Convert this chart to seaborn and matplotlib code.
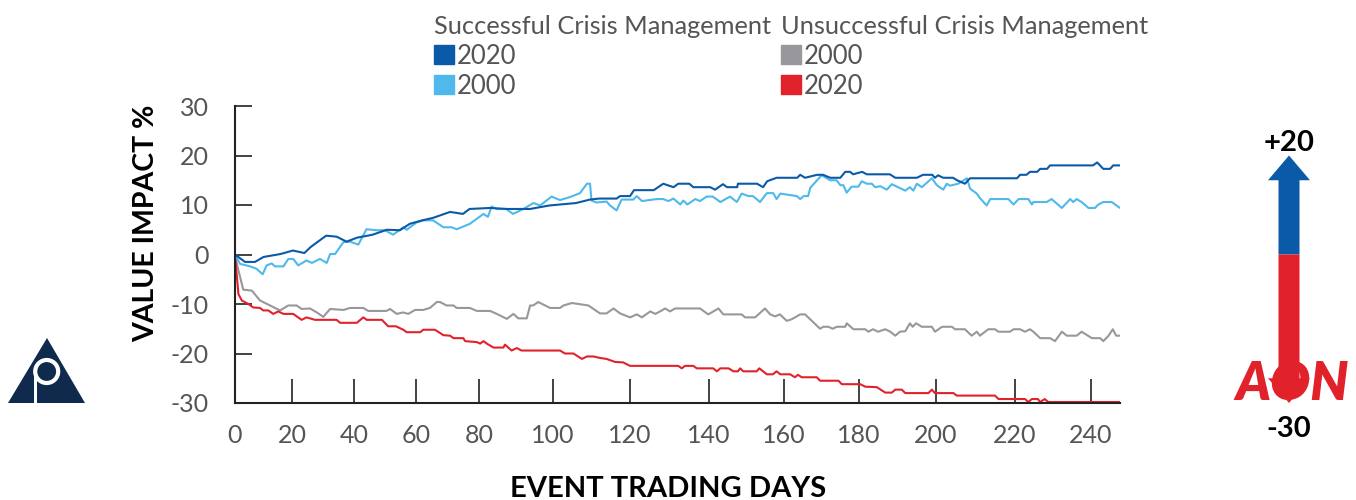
import numpy as np
import pandas as pd
import seaborn as sns
import matplotlib.pyplot as plt
from matplotlib.patches import Polygon, Rectangle, Circle
from matplotlib.transforms import blended_transform_factory

# series (event trading day, value impact %)
succ_2020_days = [0, 3.5, 7, 10, 16, 20.3, 24, 26, 31, 34.4,
                  37.6, 41, 46, 50.6, 54.8, 58, 62, 65.4, 70.8, 74.9,
                  77, 83, 87.5, 93.8, 99, 106, 109.6, 112, 116.5, 117.4,
                  120, 121, 126, 128.4, 131, 132.2, 135, 136, 140.3, 141.6,
                  143.7, 144.8, 147.5, 147.7, 152.8, 154.4, 155.5, 158, 163.5, 164.3,
                  165.6, 168.8, 170.4, 172.3, 175, 176.3, 177.6, 178.4, 180.8, 182,
                  188, 189.4, 195, 196.6, 199, 199.7, 200.5, 201.8, 204.3, 205.3,
                  207.3, 208.6, 220.5, 221.3, 223, 223.9, 225.8, 226.6, 228.4, 229.2,
                  240.5, 241.6, 243.2, 245, 245.8, 247.6]
succ_2020_vals = [0, -1.5, -1.5, -0.5, 0.1, 0.8, 0.3, 1.5, 3.8, 3.6,
                  2.6, 3.4, 4.0, 5.0, 4.9, 6.2, 6.9, 7.4, 8.6, 8.2,
                  9.2, 9.4, 9.2, 9.2, 9.9, 10.4, 11.1, 11.3, 11.3, 11.8,
                  11.8, 13.0, 13.0, 14.3, 13.6, 14.3, 14.3, 13.6, 13.6, 13.1,
                  14.2, 13.6, 13.6, 14.3, 14.3, 13.6, 14.8, 15.5, 15.5, 16.1,
                  15.5, 16.1, 16.1, 15.5, 15.5, 16.7, 16.7, 16.2, 16.7, 16.2,
                  16.2, 15.5, 15.5, 16.1, 16.1, 15.5, 16.0, 15.5, 15.5, 15.0,
                  14.3, 15.4, 15.4, 16.1, 16.1, 16.7, 16.7, 17.3, 17.3, 18.0,
                  18.0, 18.6, 17.3, 17.3, 18.0, 18.0]

succ_2000_days = [0, 1.8, 5.3, 7.6, 9.7, 11.1, 12.9, 14, 17, 18.7,
                  20.4, 22, 24.7, 26.4, 29, 31.2, 32.3, 33.9, 36.6, 38.7,
                  41.4, 44, 47.3, 50, 52.6, 55.9, 57, 60.2, 62.3, 65.4,
                  68.7, 71.3, 72.9, 77.1, 81.2, 82.4, 83.4, 84.8, 87.3, 89.2,
                  92, 94.7, 96.5, 99.6, 101.8, 104.4, 107, 108.8, 109.6, 110,
                  111.3, 113.9, 114.8, 116.5, 117.8, 120.8, 121.7, 123, 126.8, 128.4,
                  129.7, 131, 132.7, 133.5, 134.5, 136.5, 137.7, 139.4, 141, 143,
                  145.6, 147.4, 148.7, 150.5, 151.7, 153.6, 155.4, 157.1, 158, 159,
                  163.4, 164.3, 165.2, 166.4, 167, 170, 172.3, 174, 175, 175.8,
                  176.7, 178, 179.8, 180.7, 182, 183.3, 184.2, 185.5, 187.2, 188.5,
                  190.1, 192, 193.2, 194.1, 195, 196.3, 198.9, 200.2, 201.8, 202.7,
                  203.5, 205.6, 207.8, 208.6, 210.3, 211.1, 212.8, 213.7, 218.3, 219.6,
                  220.9, 223.5, 224.4, 224.8, 228.3, 229.6, 232.3, 234.5, 235.3, 236.2,
                  237.5, 239.3, 241, 241.9, 243.2, 245.4, 247.6]
succ_2000_vals = [0, -1.9, -2.4, -2.9, -4.0, -2.2, -1.8, -2.4, -2.4, -0.9,
                  -0.9, -2.2, -1.2, -1.7, -0.9, -1.7, 0.1, 0.1, 2.5, 2.6,
                  2.0, 5.1, 4.9, 4.9, 4.0, 5.5, 5.0, 6.5, 6.9, 6.9,
                  5.5, 5.5, 5.1, 6.2, 8.2, 7.6, 9.7, 9.2, 9.2, 8.2,
                  9.2, 10.4, 9.9, 11.7, 11.0, 11.6, 12.4, 14.3, 14.3, 10.9,
                  10.5, 10.7, 9.9, 8.9, 11.1, 11.1, 11.8, 10.8, 11.2, 11.2,
                  10.8, 11.3, 10.1, 10.9, 10.1, 11.2, 10.8, 11.7, 11.7, 10.6,
                  11.7, 10.6, 12.3, 11.8, 11.8, 10.6, 12.4, 12.4, 11.2, 12.3,
                  11.8, 11.2, 11.8, 11.8, 13.5, 16.0, 15.0, 15.0, 14.0, 14.0,
                  12.5, 13.7, 13.7, 14.8, 14.3, 14.3, 13.6, 13.8, 13.1, 14.2,
                  13.6, 12.9, 13.6, 12.9, 14.3, 13.6, 15.4, 14.0, 13.1, 14.3,
                  13.9, 14.3, 15.4, 13.3, 12.3, 11.4, 9.9, 11.2, 11.2, 10.1,
                  11.2, 11.2, 10.1, 10.6, 10.6, 11.2, 9.4, 11.2, 10.6, 11.2,
                  10.6, 9.4, 9.4, 10.1, 10.6, 10.6, 9.4]

unsucc_2000_days = [0, 1.2, 2.9, 5.9, 8.8, 12.3, 15.8, 18.7, 21.5, 23.1,
                    25.8, 28, 30.1, 32.3, 36.6, 38.7, 43, 44.6, 50.5, 51.6,
                    53.8, 55.8, 57.5, 59.7, 62.3, 64.4, 66.6, 67.6, 69.7, 71.9,
                    72.9, 77.1, 79.3, 83, 84.8, 87.5, 89.3, 90.6, 92.9, 93.8,
                    94.6, 96, 99.2, 101.8, 102.7, 104.9, 109.2, 112.2, 113.9, 115.7,
                    117.4, 120, 121.7, 123, 125.1, 126.4, 127.6, 128.9, 130.1, 131.4,
                    137.7, 139.8, 142.5, 143.8, 148.7, 149.6, 152.3, 154.9, 156.3, 157.6,
                    158.9, 160.7, 162, 164.3, 165.6, 169.6, 170.4, 171.8, 173, 174,
                    176.3, 176.7, 178.5, 181.6, 182.4, 183.6, 184.9, 186.8, 188.1, 189.4,
                    190.6, 192, 193.2, 193.9, 194.8, 196.3, 198.9, 199.7, 201.5, 204,
                    204.8, 207.3, 209, 210.3, 211.1, 213.2, 214.9, 215.8, 218.7, 219.6,
                    221.3, 222.6, 223.9, 224.8, 226.6, 229.2, 230.5, 232.3, 233.6, 236.2,
                    237.5, 240.2, 242.4, 243.2, 244.6, 245.7, 246.6, 247.6]
unsucc_2000_vals = [0, -3.2, -7.1, -7.3, -9.3, -10.3, -11.3, -10.3, -10.3, -11.0,
                    -10.9, -11.7, -12.6, -11.0, -11.2, -10.8, -10.8, -11.4, -11.4, -11.0,
                    -12.0, -11.7, -12.0, -11.2, -11.2, -10.8, -9.6, -9.6, -10.3, -10.3,
                    -10.8, -10.8, -11.4, -11.4, -12.0, -13.0, -12.0, -12.9, -12.9, -10.3,
                    -10.3, -9.6, -10.8, -10.8, -10.3, -9.8, -10.3, -11.9, -11.9, -10.9,
                    -11.9, -12.7, -12.1, -12.7, -11.5, -12.0, -11.5, -10.9, -11.5, -10.9,
                    -10.9, -12.1, -10.9, -12.1, -12.1, -12.7, -12.7, -10.9, -12.1, -12.5,
                    -12.1, -13.4, -13.1, -12.1, -12.1, -15.0, -14.6, -14.6, -15.0, -14.6,
                    -14.6, -13.9, -15.1, -15.1, -15.6, -15.1, -15.6, -15.1, -15.6, -16.4,
                    -15.6, -15.5, -13.9, -14.6, -13.9, -14.6, -14.6, -15.6, -14.6, -14.6,
                    -15.1, -15.1, -16.4, -15.6, -16.4, -15.1, -15.1, -15.6, -15.6, -15.1,
                    -15.1, -15.6, -15.1, -15.6, -16.9, -16.9, -17.5, -15.6, -16.4, -16.4,
                    -15.6, -16.9, -16.9, -17.5, -16.4, -15.1, -16.4, -16.4]

unsucc_2020_days = [0, 1.2, 2.4, 4.7, 6.4, 8.8, 9.9, 11.7, 13.4, 15.2,
                    17, 20.4, 21.5, 23.1, 24.7, 27.4, 34.4, 35.5, 40.9, 43,
                    44.1, 49, 51, 53.5, 55.9, 57, 61.3, 62.3, 66, 68.7,
                    70.8, 71.9, 75, 75.6, 79.3, 80.3, 81.2, 82.1, 83.9, 86.6,
                    87, 88.8, 90.2, 91.5, 101.8, 103.1, 105.3, 107.5, 108.8, 110.5,
                    112.2, 113.9, 116.1, 118.2, 120, 132.2, 133.1, 133.9, 136, 136.9,
                    141.1, 142.1, 143, 145.2, 146.5, 147.7, 148.3, 149.1, 152.7, 153.4,
                    154.4, 155.4, 157, 158, 159, 161.6, 162.9, 163.7, 164.7, 168.7,
                    169.6, 174.5, 175.4, 180.3, 181.6, 184.6, 186.8, 188.5, 189.4, 191.1,
                    192, 198, 198.9, 199.7, 204.4, 205.2, 214.9, 215.8, 222.6, 223.5,
                    224.4, 226, 226.6, 227.8, 228.7, 247.6]
unsucc_2020_vals = [0, -8.0, -9.3, -10.0, -10.7, -10.8, -11.3, -11.3, -12.0, -11.5,
                    -12.0, -12.0, -12.5, -13.2, -12.7, -13.2, -13.2, -13.8, -13.8, -12.7,
                    -13.2, -13.2, -14.5, -14.5, -15.2, -15.7, -15.7, -15.2, -15.2, -16.3,
                    -16.4, -16.9, -16.9, -17.5, -17.7, -18.0, -17.5, -18.0, -18.8, -18.8,
                    -18.2, -19.4, -18.9, -19.4, -19.4, -20.0, -20.0, -21.1, -20.6, -20.6,
                    -20.9, -21.1, -21.7, -21.8, -22.5, -22.5, -23.0, -22.5, -22.5, -23.0,
                    -23.0, -23.6, -23.0, -23.0, -23.6, -23.6, -23.0, -23.6, -23.6, -23.0,
                    -23.6, -24.2, -24.2, -23.6, -24.2, -24.2, -24.8, -24.3, -24.8, -24.8,
                    -25.5, -25.5, -26.2, -26.2, -26.7, -26.8, -27.9, -27.9, -27.3, -27.3,
                    -28.0, -28.0, -27.3, -28.0, -28.0, -28.5, -28.5, -29.2, -29.2, -29.8,
                    -29.2, -29.2, -29.8, -29.2, -29.8, -29.8]

tick_days = [0, 20, 40, 60, 80, 100, 120, 140, 160, 180, 200, 220, 240]
# the x axis of the original is not evenly spaced, warp it piecewise
warp_days = [-10] + tick_days + [260]
warp_pos = [-28.5, 0, 57, 119, 181, 244, 318, 395, 474, 549, 624, 701, 780, 856, 932]

blue_dark = '#0b5aa8'
blue_light = '#4eb9ea'
grey = '#98989c'
red = '#e2222b'

frames = []
for name, d, v in [('Unsuccessful 2000', unsucc_2000_days, unsucc_2000_vals),
                   ('Unsuccessful 2020', unsucc_2020_days, unsucc_2020_vals),
                   ('Successful 2000', succ_2000_days, succ_2000_vals),
                   ('Successful 2020', succ_2020_days, succ_2020_vals)]:
    frames.append(pd.DataFrame({'day': d, 'value': v, 'series': name}))
df = pd.concat(frames, ignore_index=True)
palette = {'Unsuccessful 2000': grey, 'Unsuccessful 2020': red,
           'Successful 2000': blue_light, 'Successful 2020': blue_dark}

sns.set_theme(style='ticks')
plt.rcParams['font.family'] = ['Lato', 'DejaVu Sans']
plt.rcParams['axes.unicode_minus'] = False

W, H = 1356, 500
fig = plt.figure(figsize=(W / 100, H / 100), dpi=100)
ax = fig.add_axes([235 / W, 97 / H, 885 / W, 297 / H])
ax.set_xscale('function', functions=(lambda x: np.interp(x, warp_days, warp_pos),
                                     lambda p: np.interp(p, warp_pos, warp_days)))

sns.lineplot(data=df, x='day', y='value', hue='series', palette=palette,
             hue_order=list(palette), estimator=None, sort=False, legend=False,
             linewidth=1.5, ax=ax)

ax.set_xlim(0, 247.6)
ax.set_ylim(-30, 30)
ax.set_xticks(tick_days)
ax.set_xticklabels([str(d) for d in tick_days])
ax.set_yticks(range(-30, 31, 10))
ax.tick_params(axis='x', direction='in', length=17, width=1.2, color='#222',
               pad=15, labelsize=18, labelcolor='#555')
ax.tick_params(axis='y', direction='in', length=12, width=1.2, color='#222',
               pad=19, labelsize=18, labelcolor='#555')
sns.despine(ax=ax)
for s in ['left', 'bottom']:
    ax.spines[s].set_color('#222')
    ax.spines[s].set_linewidth(1.5)

ax.set_ylabel('VALUE IMPACT %', fontsize=20.5, fontweight='bold', color='black')
ax.yaxis.set_label_coords(-0.1006, 0.606)
ax.yaxis.label.set_va('center')
ax.set_xlabel('EVENT TRADING DAYS', fontsize=21, fontweight='bold', color='black')
ax.xaxis.set_label_coords(0.489, -0.245)

# legend block at the top
def fx(x):
    return x / W

def fy(y):
    return 1 - y / H

legend_groups = [(434, 'Successful Crisis Management', [(blue_dark, '2020'), (blue_light, '2000')]),
                 (781, 'Unsuccessful Crisis Management', [(grey, '2000'), (red, '2020')])]
for x0, title, items in legend_groups:
    fig.text(fx(x0), fy(34), title, fontsize=18.3, color='#555', va='baseline')
    for i, (col, lab) in enumerate(items):
        top = 45 + i * 30
        fig.add_artist(Rectangle((fx(x0), fy(top + 19)), 20 / W, 19 / H,
                                 transform=fig.transFigure, color=col))
        fig.text(fx(x0 + 23), fy(top + 19), lab, fontsize=18.5, color='#555', va='baseline')

# value impact arrow on the right, tied to the y scale
trans = blended_transform_factory(fig.transFigure, ax.transData)
cx, sw, hw, hl = 1289 / W, 10.5 / W, 21 / W, 5
up = [(cx - sw, 0), (cx + sw, 0), (cx + sw, 20 - hl), (cx + hw, 20 - hl), (cx, 20),
      (cx - hw, 20 - hl), (cx - sw, 20 - hl)]
down = [(cx - sw, 0), (cx + sw, 0), (cx + sw, -30 + hl), (cx + hw, -30 + hl), (cx, -30),
        (cx - hw, -30 + hl), (cx - sw, -30 + hl)]
fig.add_artist(Polygon(up, closed=True, transform=trans, facecolor=blue_dark, edgecolor='none'))
fig.add_artist(Polygon(down, closed=True, transform=trans, facecolor=red, edgecolor='none'))
fig.text(cx, 22.6, '+20', transform=trans, ha='center', va='center', fontsize=21,
         fontweight='bold', color='black')
fig.text(cx, -35.2, '-30', transform=trans, ha='center', va='center', fontsize=21,
         fontweight='bold', color='black')

# logos
inch = fig.dpi_scale_trans
fig.add_artist(Polygon([(0.47, 1.62), (0.08, 0.97), (0.85, 0.97)], closed=True,
                       transform=inch, facecolor='#0f2a4d', edgecolor='none'))
fig.add_artist(Circle((0.467, 1.285), 0.115, transform=inch, fill=False,
                      edgecolor='white', linewidth=3))
fig.add_artist(Rectangle((0.335, 0.97), 0.035, 0.315, transform=inch,
                         facecolor='white', edgecolor='none'))
fig.text(fx(1292), fy(400), 'AON', ha='center', va='baseline', fontsize=38,
         fontweight='heavy', fontstyle='italic', color=red)

fig.savefig('out.png', dpi=100)
